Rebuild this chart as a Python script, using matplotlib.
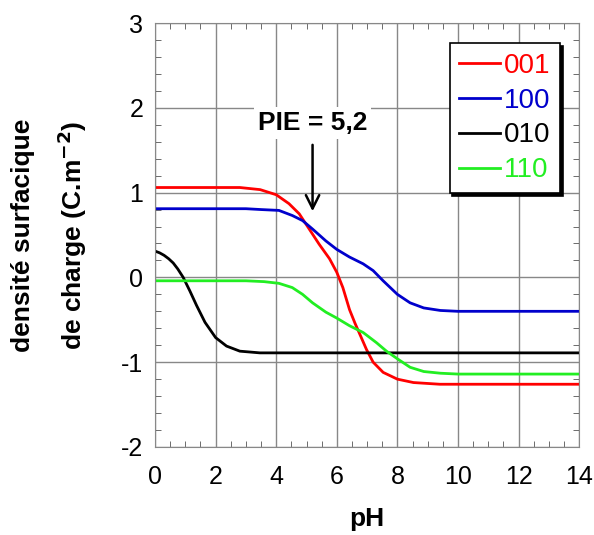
import matplotlib
matplotlib.use('Agg')
import matplotlib.pyplot as plt
from matplotlib.ticker import MultipleLocator

plt.rcParams['font.family'] = ['Liberation Sans', 'DejaVu Sans']
plt.rcParams['axes.unicode_minus'] = False

# courbes (pH, densite de charge)
ph_001 = [0, 2.8, 3.47, 4.0, 4.42, 4.76, 5.09, 5.42, 5.76, 6.0, 6.2, 6.42, 6.6, 6.76, 6.98, 7.2,
          7.53, 8.0, 8.53, 9.4, 14]
q_001 = [1.06, 1.06, 1.035, 0.975, 0.87, 0.75, 0.57, 0.39, 0.22, 0.06, -0.12, -0.38, -0.54, -0.67,
         -0.85, -1.0, -1.12, -1.20, -1.24, -1.26, -1.26]

ph_100 = [0, 3.0, 3.5, 4.09, 4.53, 4.87, 5.2, 5.64, 6.0, 6.42, 6.87, 7.2, 7.53, 8.0, 8.42, 8.87,
          9.42, 10, 14]
q_100 = [0.81, 0.81, 0.80, 0.79, 0.73, 0.67, 0.57, 0.43, 0.33, 0.24, 0.16, 0.08, -0.04, -0.20,
         -0.30, -0.36, -0.39, -0.40, -0.40]

ph_010 = [0, 0.15, 0.3, 0.45, 0.6, 0.75, 0.93, 1.15, 1.37, 1.65, 2.0, 2.36, 2.8, 3.46, 4, 14]
q_010 = [0.31, 0.29, 0.26, 0.22, 0.17, 0.10, 0.0, -0.16, -0.33, -0.53, -0.71, -0.81, -0.87, -0.89,
         -0.89, -0.89]

ph_110 = [0, 3.0, 3.6, 4.09, 4.53, 4.87, 5.2, 5.64, 6.0, 6.42, 6.87, 7.31, 7.64, 8.0, 8.42, 8.87,
          9.42, 10, 14]
q_110 = [-0.04, -0.04, -0.05, -0.07, -0.12, -0.20, -0.30, -0.41, -0.48, -0.57, -0.65, -0.77, -0.87,
         -0.96, -1.06, -1.11, -1.13, -1.14, -1.14]

pie = 5.2

fig = plt.figure(figsize=(5.94, 5.35), dpi=100)
ax = fig.add_axes([0.261, 0.1645, 0.714, 0.7925])

ax.plot(ph_001, q_001, color='#ff0000', lw=2, label='001')
ax.plot(ph_100, q_100, color='#0000cc', lw=2, label='100')
ax.plot(ph_010, q_010, color='black', lw=2, label='010')
ax.plot(ph_110, q_110, color='#22ee22', lw=2, label='110')

ax.set_xlim(0, 14)
ax.set_ylim(-2, 3)
ax.xaxis.set_major_locator(MultipleLocator(2))
ax.xaxis.set_minor_locator(MultipleLocator(0.5))
ax.yaxis.set_major_locator(MultipleLocator(1))
ax.yaxis.set_minor_locator(MultipleLocator(0.2))
ax.tick_params(which='both', direction='in', top=True, right=True, colors='#555555',
               labelcolor='black', labelsize=18)
ax.tick_params(which='major', length=0)
ax.tick_params(axis='x', which='major', pad=13)
ax.tick_params(axis='y', which='major', pad=8.5)
ax.tick_params(which='minor', length=4)
ax.grid(True, which='major', color='#888888', lw=1)
for s in ax.spines.values():
    s.set_color('#888888')

ax.annotate('PIE = 5,2', xy=(pie, 0.78), xytext=(pie, 1.82), ha='center', va='center',
            fontsize=19, fontweight='bold',
            bbox=dict(facecolor='white', edgecolor='none', pad=3),
            arrowprops=dict(arrowstyle='->', color='black', lw=1.8, mutation_scale=24,
                            shrinkA=4, shrinkB=0))

ax.set_xlabel('pH', fontsize=19, fontweight='bold', va='center')
ax.xaxis.set_label_coords(0.5, -0.17)
ax.set_ylabel('densité surfacique\nde charge (C.m$^{\\mathbf{-2}}$)', fontsize=19,
              fontweight='bold', linespacing=1.75, va='center')
ax.yaxis.set_label_coords(-0.248, 0.5)

leg = ax.legend(loc='upper right', bbox_to_anchor=(0.955, 0.953), borderaxespad=0,
                fontsize=20, handlelength=1.45, handletextpad=0.15, labelspacing=0.32,
                borderpad=0.35, fancybox=False, edgecolor='black', framealpha=1,
                shadow={'color': 'black', 'alpha': 1}, labelcolor='linecolor')
leg.get_frame().set_linewidth(1.2)

plt.savefig('out.png', dpi=100)
